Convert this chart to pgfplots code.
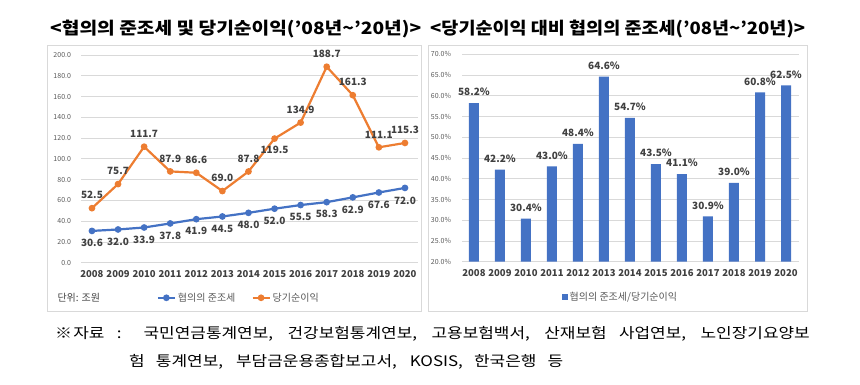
\documentclass[border=0pt]{standalone}
\usepackage{fontspec}
\setmainfont{Noto Sans CJK KR}
\usepackage{graphicx}
\usepackage{pgfplots}
\usepackage{pgfplotstable}
\pgfplotsset{compat=1.18}
\definecolor{cblue}{HTML}{4472C4}
\definecolor{corange}{HTML}{ED7D31}
\definecolor{gridgray}{HTML}{D9D9D9}
\definecolor{framegray}{HTML}{D9D9D9}
\definecolor{tickgray}{HTML}{595959}
\definecolor{labgray}{HTML}{404040}

\pgfplotstableread{
x y dy
0 30.6 -12
1 32.0 -12
2 33.9 -12
3 37.8 -12
4 41.9 -12
5 44.5 -12
6 48.0 -12
7 52.0 -12
8 55.5 -12
9 58.3 -12
10 62.9 -12
11 67.6 -12
12 72.0 -13
}\bluedata
\pgfplotstableread{
x y dy
0 52.5 13
1 75.7 13
2 111.7 13
3 87.9 13
4 86.6 13
5 69.0 13
6 87.8 13
7 119.5 -11
8 134.9 13
9 188.7 13
10 161.3 13
11 111.1 12
12 115.3 13
}\orangedata
\pgfplotstableread{
x y
0 58.2
1 42.2
2 30.4
3 43.0
4 48.4
5 64.6
6 54.7
7 43.5
8 41.1
9 30.9
10 39.0
11 60.8
12 62.5
}\ratiodata

\begin{document}
\begin{tikzpicture}[x=1pt,y=1pt]
\path[use as bounding box] (0,0) rectangle (860,385);
% frames
\draw[framegray, line width=0.8pt] (47,340) rectangle (421,74);
\draw[framegray, line width=0.8pt] (428,340) rectangle (807,74);
% titles
\node[anchor=west, inner sep=0] at (50,356) {\resizebox{371pt}{\height}{\fontsize{17}{20}\selectfont\bfseries <협의의 준조세 및 당기순이익('08년\textasciitilde'20년)>}};
\node[anchor=west, inner sep=0] at (430,356) {\resizebox{375pt}{\height}{\fontsize{17}{20}\selectfont\bfseries <당기순이익 대비 협의의 준조세('08년\textasciitilde'20년)>}};

% left chart
\begin{axis}[
  at={(81pt,122.3pt)}, anchor=south west, scale only axis,
  width=337pt, height=207.7pt,
  xmin=-0.42, xmax=12.5, ymin=0, ymax=200,
  ytick={0,20,...,200},
  yticklabels={0.0,20.0,40.0,60.0,80.0,100.0,120.0,140.0,160.0,180.0,200.0},
  xtick={0,...,12},
  xticklabels={2008,2009,2010,2011,2012,2013,2014,2015,2016,2017,2018,2019,2020},
  ymajorgrids, grid style={gridgray, line width=0.7pt},
  axis line style={draw=none}, major tick length=0pt,
  xticklabel style={font=\fontsize{9.5}{11}\selectfont\bfseries, text=labgray, yshift=-4pt},
  yticklabel style={font=\fontsize{7}{8}\selectfont, text=tickgray, xshift=-6.5pt},
  /pgf/number format/assume math mode=true,
  clip=false,
  legend style={at={(0.468,-0.169)}, anchor=center, draw=none, fill=none,
    legend columns=2, font=\fontsize{10}{12}\selectfont, text=tickgray,
    /tikz/every even column/.append style={column sep=14pt}},
]
\addplot[color=cblue, line width=2.2pt, mark=*, mark size=2.2pt,
  nodes near coords={\pgfmathprintnumber[fixed,fixed zerofill,precision=1]{\pgfplotspointmeta}},
  point meta=y,
  visualization depends on={\thisrow{dy} \as \dy},
  every node near coord/.append style={anchor=center, yshift=\dy*1pt,
    font=\fontsize{10}{12}\selectfont\bfseries, text=labgray}]
  table[x=x,y=y] {\bluedata};
\addlegendentry{협의의 준조세}
\addplot[color=corange, line width=2.2pt, mark=*, mark size=2.2pt,
  nodes near coords={\pgfmathprintnumber[fixed,fixed zerofill,precision=1]{\pgfplotspointmeta}},
  point meta=y,
  visualization depends on={\thisrow{dy} \as \dy},
  every node near coord/.append style={anchor=center, yshift=\dy*1pt,
    font=\fontsize{10}{12}\selectfont\bfseries, text=labgray}]
  table[x=x,y=y] {\orangedata};
\addlegendentry{당기순이익}
\end{axis}
\node[anchor=west, font=\fontsize{10}{12}\selectfont, text=labgray] at (54,87) {단위: 조원};

% right chart
\begin{axis}[
  at={(462pt,123.3pt)}, anchor=south west, scale only axis,
  width=337pt, height=207.4pt,
  xmin=-0.46, xmax=12.5, ymin=20, ymax=70,
  ytick={20,25,...,70},
  yticklabels={20.0\%,25.0\%,30.0\%,35.0\%,40.0\%,45.0\%,50.0\%,55.0\%,60.0\%,65.0\%,70.0\%},
  xtick={0,...,12},
  xticklabels={2008,2009,2010,2011,2012,2013,2014,2015,2016,2017,2018,2019,2020},
  ymajorgrids, grid style={gridgray, line width=0.7pt},
  axis line style={draw=none}, major tick length=0pt,
  xticklabel style={font=\fontsize{9.5}{11}\selectfont\bfseries, text=labgray, yshift=-4pt},
  yticklabel style={font=\fontsize{7}{8}\selectfont, text=tickgray, xshift=-7.5pt},
  /pgf/number format/assume math mode=true,
  legend style={at={(0.47,-0.17)}, anchor=center, draw=none, fill=none,
    font=\fontsize{10}{12}\selectfont, text=tickgray},
  legend image code/.code={\fill[cblue] (0pt,-3pt) rectangle (6pt,3pt);},
]
\addplot[ybar, bar width=10pt, fill=cblue, draw=none,
  nodes near coords={\pgfmathprintnumber[fixed,fixed zerofill,precision=1]{\pgfplotspointmeta}\%},
  point meta=y,
  every node near coord/.append style={anchor=center, yshift=11pt,
    font=\fontsize{10}{12}\selectfont\bfseries, text=labgray}]
  table[x=x,y=y] {\ratiodata};
\addlegendentry{협의의 준조세/당기순이익}
\end{axis}

% footnote
\node[anchor=west, inner sep=0, font=\fontsize{14.5}{18}\selectfont] at (55,51)
  {\scalebox{1.17}[1]{\makebox[645pt][s]{※\kern1pt자료 : 국민연금통계연보, 건강보험통계연보, 고용보험백서, 산재보험 사업연보, 노인장기요양보}}};
\node[anchor=west, inner sep=0, font=\fontsize{14.5}{18}\selectfont] at (129,23)
  {\scalebox{1.17}[1]{\makebox[371pt][s]{험 통계연보, 부담금운용종합보고서, KOSIS, 한국은행 등}}};
\end{tikzpicture}
\end{document}
